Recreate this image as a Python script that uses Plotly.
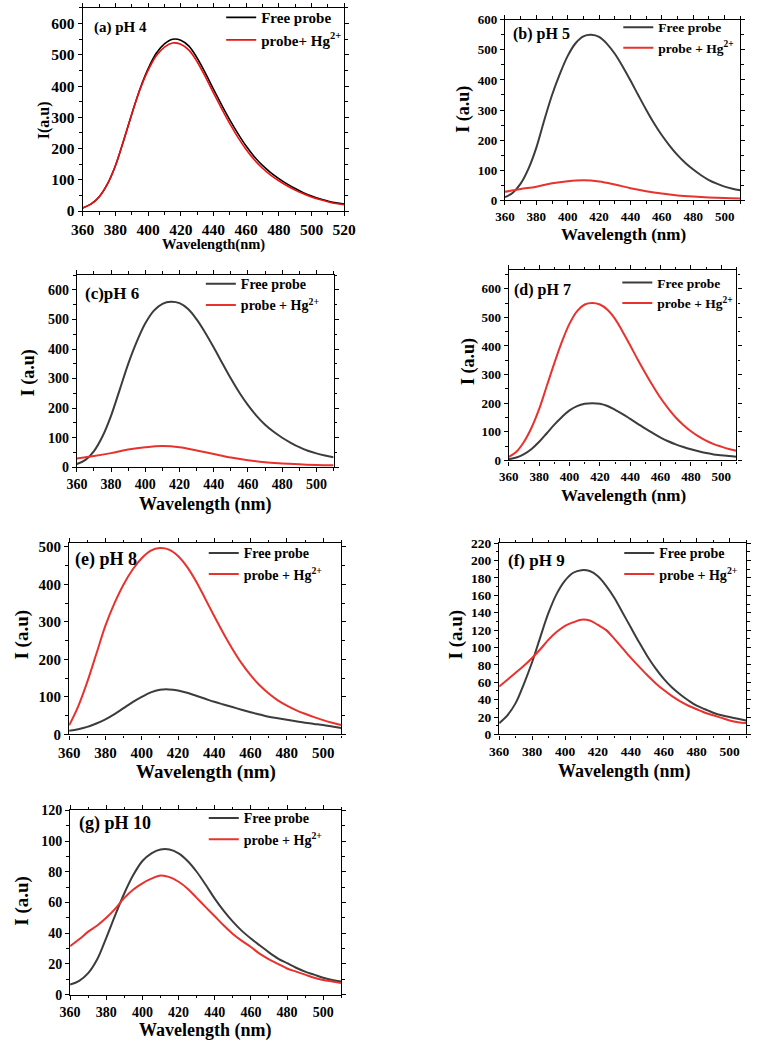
import plotly.graph_objects as go

W, H = 762, 1046
FONT = "Liberation Serif"
GRAY = "#3c3c3c"
RED = "#e8322e"

# ---------------- data ----------------
wl_a = [360, 365, 370, 375, 380, 385, 390, 395, 400, 405, 410, 415, 420, 425, 430, 435, 440,
        445, 450, 455, 460, 465, 470, 475, 480, 485, 490, 495, 500, 505, 510, 515, 520]
wl = [360, 365, 370, 375, 380, 385, 390, 395, 400, 405, 410, 415, 420, 425, 430, 435, 440,
      445, 450, 455, 460, 465, 470, 475, 480, 485, 490, 495, 500, 505, 510]
wl10 = [360, 370, 380, 390, 400, 410, 420, 430, 440, 450, 460, 470, 480, 490, 500, 510]

free_a = [10, 22, 45, 85, 145, 225, 310, 390, 455, 505, 535, 550, 547, 528, 490, 442, 390,
          340, 292, 248, 208, 174, 146, 123, 104, 87, 72, 59, 48, 39, 32, 26, 22]
hg_a = [10, 22, 45, 85, 145, 225, 310, 388, 450, 497, 525, 538, 534, 515, 478, 430, 378,
        328, 280, 236, 197, 164, 137, 115, 97, 81, 67, 55, 45, 37, 30, 24, 20]

free_b = [10, 25, 55, 105, 175, 265, 350, 420, 480, 522, 545, 550, 543, 520, 487, 445, 398,
          349, 301, 256, 216, 181, 150, 124, 102, 83, 67, 55, 45, 38, 33]
hg_b = [28, 37, 45, 56, 63, 66, 62, 52, 40, 30, 22, 16, 12, 9, 7, 6]

free_c = [11, 25, 55, 105, 175, 262, 350, 425, 487, 530, 553, 560, 555, 535, 500, 455, 405,
          352, 300, 252, 210, 174, 144, 120, 100, 83, 68, 56, 47, 40, 34]
hg_c = [30, 38, 48, 60, 68, 72, 68, 57, 45, 33, 24, 17, 13, 10, 8, 7]

free_d = [4, 10, 22, 40, 65, 95, 125, 152, 175, 190, 198, 200, 198, 190, 177, 162, 145,
          128, 111, 95, 80, 67, 56, 47, 39, 32, 26, 21, 18, 15, 13]
hg_d = [12, 30, 65, 115, 180, 260, 340, 415, 478, 522, 545, 550, 545, 527, 495, 450, 402,
        352, 305, 260, 218, 182, 150, 124, 102, 84, 69, 57, 48, 40, 34]

free_e = [10, 14, 20, 29, 40, 54, 70, 86, 100, 112, 119, 120, 117, 111, 103, 95, 87,
          80, 73, 66, 59, 53, 47, 43, 39, 35, 31, 28, 25, 21, 17]
hg_e = [24, 75, 140, 215, 290, 350, 400, 440, 470, 490, 497, 493, 476, 447, 408, 362, 315,
        270, 228, 190, 158, 131, 109, 91, 77, 65, 55, 46, 38, 31, 25]

free_f = [13, 22, 36, 58, 83, 112, 140, 162, 177, 186, 189, 188, 182, 171, 157, 140, 123,
          106, 90, 76, 64, 54, 46, 39, 33, 29, 25, 22, 20, 18, 16]
hg_f = [55, 63, 71, 79, 88, 98, 109, 118, 125, 129, 132, 131, 126, 120, 110, 99, 88,
        78, 68, 59, 51, 44, 38, 33, 29, 25, 22, 19, 16, 14, 13]

free_g = [6.5, 9, 14, 23, 37, 52, 66, 78, 87, 92, 94.5, 94.5, 92, 87, 80, 71.5, 62.5,
          54.5, 47.5, 41.5, 36.5, 32, 27.5, 23.5, 20.5, 17.5, 15, 13, 11, 9.5, 8.5]
hg_g = [31.5, 36, 41, 45, 50, 56, 63, 68.5, 72.5, 75.5, 77.5, 76.5, 73.5, 69, 63, 57, 51,
        45, 39.5, 35, 31, 26.5, 23, 20, 17, 15, 13, 11, 9.5, 8.5, 7.5]

panel_labels = ["(a) pH 4", "(b) pH 5", "(c)pH 6", "(d) pH 7", "(e) pH 8", "(f) pH 9", "(g) pH 10"]
name_free = "Free probe"
name_hg = "probe + Hg<sup>2+</sup>"
name_hg_a = "probe+ Hg<sup>2+</sup>"
x_title = "Wavelength (nm)"
x_title_a = "Wavelength(nm)"
y_title = "I (a.u)"
y_title_a = "I(a.u)"

# ---------------- layout spec (pixels) ----------------
panels = [
    dict(x=wl_a, free=free_a, hg=hg_a, xw=wl_a, px=(73, 343), py=(1, 207), xr=[360, 520], yr=[0, 650],
         ydt=100, ymin=50, tf=15.5, c1="#000000", c2="#ee1111", lw=1.6, hgname=name_hg_a,
         lab=(83, 21, 15), leg=(216, -6, 15), xt=(208, 241, 14.5, x_title_a), yt=(33, 115, 16, y_title_a)),
    dict(x=wl, free=free_b, hg=hg_b, xw=wl10, px=(509, 752), py=(13, 196), xr=[360, 510], yr=[0, 600],
         ydt=100, ymin=50, tf=13, c1=GRAY, c2=RED, lw=2, hgname=name_hg,
         lab=(515, 27, 16), leg=(626, 5, 13.5), xt=(631, 231, 17, x_title), yt=(466, 104, 18, y_title)),
    dict(x=wl, free=free_c, hg=hg_c, xw=wl10, px=(67, 332), py=(272, 467), xr=[360, 510], yr=[0, 650],
         ydt=100, ymin=50, tf=14, c1=GRAY, c2=RED, lw=2, hgname=name_hg,
         lab=(73, 291, 17), leg=(195, 265, 14), xt=(200, 505, 18, x_title), yt=(17, 371, 18, y_title)),
    dict(x=wl, free=free_d, hg=hg_d, xw=wl, px=(513, 748), py=(267, 460), xr=[360, 510], yr=[0, 665],
         ydt=100, ymin=50, tf=13, c1=GRAY, c2=RED, lw=2, hgname=name_hg,
         lab=(516, 287, 16), leg=(625, 264, 13.5), xt=(631, 496, 17, x_title), yt=(472, 360, 18, y_title)),
    dict(x=wl, free=free_e, hg=hg_e, xw=wl, px=(59, 340), py=(544, 738), xr=[360, 510], yr=[0, 510],
         ydt=100, ymin=50, tf=15, c1=GRAY, c2=RED, lw=2, hgname=name_hg,
         lab=(63, 561, 18), leg=(198, 538, 14), xt=(200, 776, 19, x_title), yt=(10, 637, 19, y_title)),
    dict(x=wl, free=free_f, hg=hg_f, xw=wl, px=(503, 758), py=(544, 738), xr=[360, 510], yr=[0, 220],
         ydt=20, ymin=10, tf=13.5, c1=GRAY, c2=RED, lw=2, hgname=name_hg,
         lab=(510, 562, 17), leg=(627, 538, 14), xt=(632, 776, 18, x_title), yt=(458, 637, 19, y_title)),
    dict(x=wl, free=free_g, hg=hg_g, xw=wl, px=(60, 340), py=(815, 1002), xr=[360, 510], yr=[0, 120],
         ydt=20, ymin=10, tf=14, c1=GRAY, c2=RED, lw=2, hgname=name_hg,
         lab=(67, 828, 18), leg=(198, 807, 14), xt=(200, 1038, 18, x_title), yt=(10, 907, 19, y_title)),
]

fig = go.Figure()
annotations = []
layout = {}

for i, p in enumerate(panels):
    n = "" if i == 0 else str(i + 1)
    xa, ya = "x" + n, "y" + n
    legname = "legend" + n
    fig.add_trace(go.Scatter(x=p["x"], y=p["free"], mode="lines", name=name_free,
                             line=dict(color=p["c1"], width=p["lw"], shape="spline", smoothing=1.0),
                             xaxis=xa, yaxis=ya, legend=legname))
    fig.add_trace(go.Scatter(x=p["xw"], y=p["hg"], mode="lines", name=p["hgname"],
                             line=dict(color=p["c2"], width=p["lw"], shape="spline", smoothing=1.0),
                             xaxis=xa, yaxis=ya, legend=legname))
    tick_font = dict(family=FONT, size=p["tf"], color="black", weight="bold")
    common = dict(showline=True, linecolor="black", linewidth=1.3, mirror="allticks",
                  ticks="outside", ticklen=4, tickwidth=1.1, tickcolor="black",
                  showgrid=False, zeroline=False, tickfont=tick_font)
    layout["xaxis" + n] = dict(common, domain=[p["px"][0] / W, p["px"][1] / W], range=p["xr"],
                               dtick=20, tick0=360, anchor=ya,
                               minor=dict(ticks="outside", ticklen=2.5, dtick=10, tickcolor="black"))
    layout["yaxis" + n] = dict(common, domain=[1 - p["py"][1] / H, 1 - p["py"][0] / H], range=p["yr"],
                               dtick=p["ydt"], tick0=0, anchor=xa,
                               minor=dict(ticks="outside", ticklen=2.5, dtick=p["ymin"], tickcolor="black"))
    lx, ly, lf = p["leg"]
    layout[legname] = dict(x=lx / W, y=1 - ly / H, xanchor="left", yanchor="top",
                           bgcolor="rgba(0,0,0,0)", borderwidth=0, tracegroupgap=0,
                           font=dict(family=FONT, size=lf, color="black", weight="bold"))
    ax_, ay_, af = p["lab"]
    annotations.append(dict(text=panel_labels[i], x=ax_ / W, y=1 - ay_ / H, xref="paper", yref="paper",
                            xanchor="left", yanchor="middle", showarrow=False,
                            font=dict(family=FONT, size=af, color="black", weight="bold")))
    tx, ty, tf2, tt = p["xt"]
    annotations.append(dict(text=tt, x=tx / W, y=1 - ty / H, xref="paper", yref="paper",
                            xanchor="center", yanchor="middle", showarrow=False,
                            font=dict(family=FONT, size=tf2, color="black", weight="bold")))
    yx, yy, yf, yt = p["yt"]
    annotations.append(dict(text=yt, x=yx / W, y=1 - yy / H, xref="paper", yref="paper",
                            xanchor="center", yanchor="middle", showarrow=False, textangle=-90,
                            font=dict(family=FONT, size=yf, color="black", weight="bold")))

fig.update_layout(**layout)
fig.update_layout(width=W, height=H, margin=dict(l=0, r=0, t=0, b=0),
                  paper_bgcolor="white", plot_bgcolor="white", showlegend=True,
                  annotations=annotations)

fig.write_html("out.html")
